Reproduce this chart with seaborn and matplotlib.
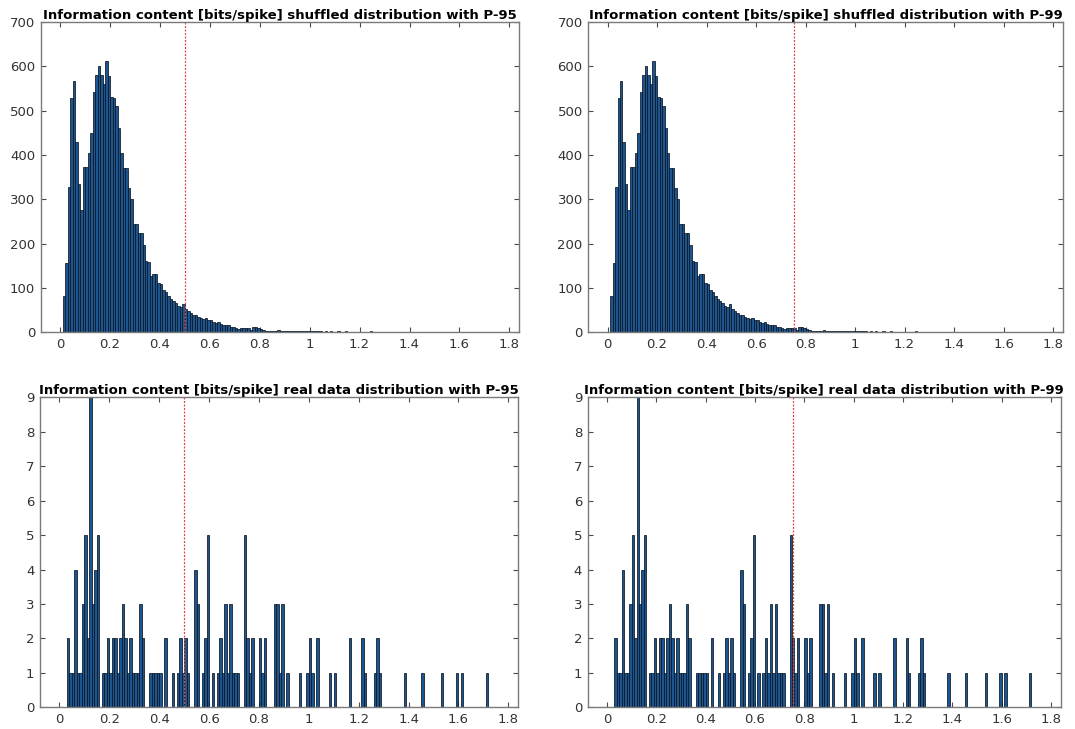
import numpy as np
import pandas as pd
import matplotlib
matplotlib.use("Agg")
import matplotlib.pyplot as plt
import seaborn as sns

# ---------------- data ----------------
bin_width = 0.01

# shuffled distribution: counts per 0.01 bin, first bin starts at 0.01
shuffled_start = 0.01
shuffled_counts = [
    82, 157, 328, 528, 567, 430, 334, 276, 374, 374,   # 0.01-0.10
    404, 450, 541, 581, 601, 581, 560, 612, 578, 531,  # 0.11-0.20
    528, 510, 460, 404, 371, 371, 326, 300, 244, 244,  # 0.21-0.30
    223, 223, 197, 161, 158, 128, 131, 132, 112, 108,  # 0.31-0.40
    95, 90, 82, 76, 70, 66, 60, 57, 64, 52,            # 0.41-0.50
    48, 44, 40, 38, 34, 33, 30, 32, 28, 27,            # 0.51-0.60
    23, 20, 23, 18, 16, 17, 16, 13, 12, 9,             # 0.61-0.70
    8, 10, 10, 9, 9, 6, 13, 12, 10, 7,                 # 0.71-0.80
    5, 4, 4, 3, 4, 3, 5, 4, 3, 4,                      # 0.81-0.90
    3, 3, 2, 3, 2, 3, 2, 2, 3, 4,                      # 0.91-1.00
    2, 3, 2, 2, 1, 2, 1, 2, 1, 1,                      # 1.01-1.10
    2, 1, 1, 2, 1, 0, 1, 1, 0, 1,                      # 1.11-1.20
    0, 1, 1, 3, 1, 0, 1, 0, 1, 0,                      # 1.21-1.30
    1, 0, 0, 1, 0, 0, 1, 0, 0, 1,                      # 1.31-1.40
    0, 0, 1, 0, 0, 0, 1, 0, 0, 0,                      # 1.41-1.50
    1, 0, 0, 0, 0, 1, 0, 0, 0, 0,                      # 1.51-1.60
    0, 1, 0, 0, 0, 0, 0, 1, 0, 0,                      # 1.61-1.70
    1,                                                 # 1.71
]

# real data distribution: counts per 0.01 bin, first bin starts at 0.03
real_start = 0.03
real_counts = [
    2, 1, 1, 4, 1, 1, 3, 5, 2, 9,   # 0.03-0.12
    3, 4, 5, 0, 1, 1, 2, 1, 2, 2,   # 0.13-0.22
    1, 2, 3, 2, 1, 2, 1, 1, 1, 3,   # 0.23-0.32
    2, 0, 0, 1, 1, 1, 1, 1, 0, 2,   # 0.33-0.42
    0, 0, 1, 0, 1, 2, 1, 2, 1, 0,   # 0.43-0.52
    0, 4, 3, 0, 1, 2, 5, 0, 1, 0,   # 0.53-0.62
    1, 2, 1, 3, 1, 3, 1, 1, 1, 0,   # 0.63-0.72
    0, 5, 2, 1, 2, 0, 0, 2, 1, 2,   # 0.73-0.82
    0, 0, 0, 3, 3, 1, 3, 0, 1, 0,   # 0.83-0.92
    0, 0, 0, 1, 0, 0, 1, 2, 1, 0,   # 0.93-1.02
    2, 0, 0, 0, 0, 1, 0, 1, 0, 0,   # 1.03-1.12
    0, 0, 0, 2, 0, 0, 0, 0, 2, 1,   # 1.13-1.22
    0, 0, 0, 1, 2, 1, 0, 0, 0, 0,   # 1.23-1.32
    0, 0, 0, 0, 0, 1, 0, 0, 0, 0,   # 1.33-1.42
    0, 0, 1, 0, 0, 0, 0, 0, 0, 0,   # 1.43-1.52
    1, 0, 0, 0, 0, 0, 1, 0, 1, 0,   # 1.53-1.62
    0, 0, 0, 0, 0, 0, 0, 0, 1,      # 1.63-1.71
]

p95 = 0.5
p99 = 0.755

titles = [
    "Information content [bits/spike] shuffled distribution with P-95",
    "Information content [bits/spike] shuffled distribution with P-99",
    "Information content [bits/spike] real data distribution with P-95",
    "Information content [bits/spike] real data distribution with P-99",
]
x_ticks = [0, 0.2, 0.4, 0.6, 0.8, 1, 1.2, 1.4, 1.6, 1.8]
x_tick_labels = ["0", "0.2", "0.4", "0.6", "0.8", "1", "1.2", "1.4", "1.6", "1.8"]
top_yticks = [0, 100, 200, 300, 400, 500, 600, 700]
bottom_yticks = [0, 1, 2, 3, 4, 5, 6, 7, 8, 9]


def make_frame(start, counts):
    n = len(counts)
    edges = np.round(start + bin_width * np.arange(n + 1), 4)
    centers = edges[:-1] + bin_width / 2
    return pd.DataFrame({"value": centers, "count": counts}), [float(e) for e in edges]


shuf_df, shuf_edges = make_frame(shuffled_start, shuffled_counts)
real_df, real_edges = make_frame(real_start, real_counts)

# ---------------- style ----------------
sns.set_theme(style="white")
plt.rcParams["font.family"] = ["DejaVu Sans"]
plt.rcParams["axes.edgecolor"] = "#6b6b6b"
plt.rcParams["axes.linewidth"] = 1.0

fig = plt.figure(figsize=(10.75, 7.29), dpi=100)
fig.patch.set_facecolor("white")

rects = [
    [40.7 / 1075, 1 - 332.3 / 729, (519.3 - 40.7) / 1075, (332.3 - 22.0) / 729],
    [588.3 / 1075, 1 - 332.3 / 729, (1063.0 - 588.3) / 1075, (332.3 - 22.0) / 729],
    [40.0 / 1075, 1 - 707.3 / 729, (518.3 - 40.0) / 1075, (707.3 - 397.3) / 729],
    [587.7 / 1075, 1 - 707.3 / 729, (1061.0 - 587.7) / 1075, (707.3 - 397.3) / 729],
]

panels = [
    (shuf_df, shuf_edges, p95, top_yticks, (0, 700)),
    (shuf_df, shuf_edges, p99, top_yticks, (0, 700)),
    (real_df, real_edges, p95, bottom_yticks, (0, 9)),
    (real_df, real_edges, p99, bottom_yticks, (0, 9)),
]

bar_face = "#1d5590"
bar_edge = "#0b1622"

for rect, (df, edges, thr, yt, ylim), title in zip(rects, panels, titles):
    ax = fig.add_axes(rect)
    sns.histplot(data=df, x="value", weights="count", bins=edges, ax=ax,
                 color=bar_face, edgecolor=bar_edge, linewidth=0.55, alpha=1.0)
    ax.axvline(thr, color="#e04848", linestyle=(0, (1.6, 1.2)), linewidth=0.9)
    ax.set_xlim(-0.078, 1.84)
    ax.set_ylim(*ylim)
    ax.set_xticks(x_ticks)
    ax.set_xticklabels(x_tick_labels)
    ax.set_yticks(yt)
    ax.set_xlabel("")
    ax.set_ylabel("")
    ax.tick_params(axis="both", which="both", direction="in", length=3.5, width=0.8,
                   colors="#4a4a4a", labelcolor="#333333", labelsize=9.5,
                   top=True, right=True, bottom=True, left=True, pad=4)
    for s in ax.spines.values():
        s.set_visible(True)
        s.set_color("#7a7a7a")
        s.set_linewidth(1.0)
    ax.set_title(title, fontsize=9.5, fontweight="bold", pad=2, color="black")

fig.savefig("out.png", dpi=100, facecolor="white")
